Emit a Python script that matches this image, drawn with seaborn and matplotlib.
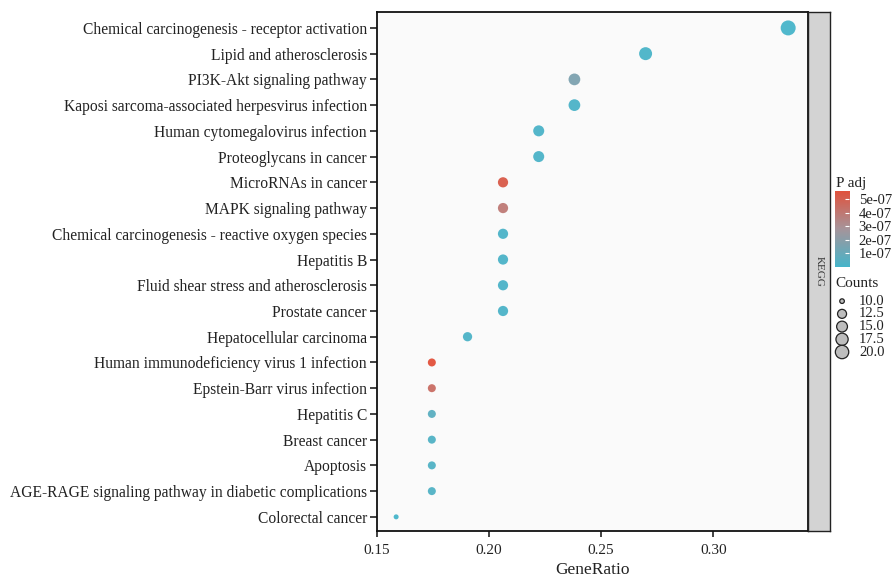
import numpy as np
import pandas as pd
import seaborn as sns
import matplotlib.pyplot as plt
from matplotlib.colors import LinearSegmentedColormap, Normalize

# KEGG enrichment results
terms = [
    "Chemical carcinogenesis - receptor activation",
    "Lipid and atherosclerosis",
    "PI3K-Akt signaling pathway",
    "Kaposi sarcoma-associated herpesvirus infection",
    "Human cytomegalovirus infection",
    "Proteoglycans in cancer",
    "MicroRNAs in cancer",
    "MAPK signaling pathway",
    "Chemical carcinogenesis - reactive oxygen species",
    "Hepatitis B",
    "Fluid shear stress and atherosclerosis",
    "Prostate cancer",
    "Hepatocellular carcinoma",
    "Human immunodeficiency virus 1 infection",
    "Epstein-Barr virus infection",
    "Hepatitis C",
    "Breast cancer",
    "Apoptosis",
    "AGE-RAGE signaling pathway in diabetic complications",
    "Colorectal cancer",
]
counts = [21, 17, 15, 15, 14, 14, 13, 13, 13, 13, 13, 13, 12, 11, 11, 11, 11, 11, 11, 10]
gene_ratio = [0.3333, 0.2698, 0.2381, 0.2381, 0.2222, 0.2222, 0.2063, 0.2063, 0.2063, 0.2063,
              0.2063, 0.2063, 0.1905, 0.1746, 0.1746, 0.1746, 0.1746, 0.1746, 0.1746, 0.1587]
p_adj = [5e-9, 1e-8, 1.6e-7, 1.5e-8, 1.5e-8, 1.5e-8, 5.2e-7, 3.9e-7, 1.5e-8, 1.5e-8,
         1.5e-8, 1.5e-8, 2e-8, 5.6e-7, 4.4e-7, 6e-8, 3e-8, 3e-8, 3e-8, 1e-9]
cbar_ticks = [1e-7, 2e-7, 3e-7, 4e-7, 5e-7]
cbar_labels = ["1e-07", "2e-07", "3e-07", "4e-07", "5e-07"]
size_ticks = [10.0, 12.5, 15.0, 17.5, 20.0]

df = pd.DataFrame({"term": terms, "Counts": counts, "GeneRatio": gene_ratio, "padj": p_adj})

plt.rcParams['font.family'] = ['Liberation Serif', 'DejaVu Serif']
txt = "#222222"

cmap = LinearSegmentedColormap.from_list("padj", ["#46B5CA", "#A7949A", "#E2503A"])
pnorm = Normalize(1e-9, 5.62e-7)
cmin, cmax = min(counts), max(counts)


def dot_area(c):
    # ggplot-like area scale: diameter grows with sqrt of rescaled count
    d_px = 2 * (1 + 5 * np.sqrt((c - cmin) / (cmax - cmin))) + 3
    return (d_px * 0.72) ** 2


size_map = {c: dot_area(c) for c in sorted(set(counts))}

fig = plt.figure(figsize=(8.92, 5.78), dpi=100)
ax = fig.add_axes([0.4222, 0.0813, 0.4833, 0.8971])
ax.set_facecolor("#FAFAFA")

sns.scatterplot(data=df, x="GeneRatio", y="term", hue="padj", size="Counts",
                palette=cmap, hue_norm=pnorm, sizes=size_map,
                linewidth=0, alpha=0.95, legend=False, ax=ax)

ax.set_xlim(0.15, 0.342)
ax.set_ylim(len(terms) - 0.45, -0.6)
ax.set_xticks([0.15, 0.20, 0.25, 0.30])
ax.set_xticklabels(["0.15", "0.20", "0.25", "0.30"])
ax.set_xlabel("GeneRatio", fontsize=12.5, labelpad=3.5, color=txt)
ax.set_ylabel("")
ax.tick_params(axis="y", labelsize=11.2, length=5, width=1.2, color=txt, labelcolor=txt, pad=2)
ax.tick_params(axis="x", labelsize=11, length=4, width=1.2, color=txt, labelcolor=txt, pad=5.5)
for sp in ax.spines.values():
    sp.set_linewidth(1.3)
    sp.set_color("#111111")

# facet strip
strip = fig.add_axes([0.9058, 0.0813, 0.0247, 0.8971])
strip.set_facecolor("#D3D3D3")
strip.set_xticks([])
strip.set_yticks([])
for sp in strip.spines.values():
    sp.set_linewidth(1.0)
    sp.set_color(txt)
strip.text(0.5, 0.5, "KEGG", rotation=-90, ha="center", va="center", fontsize=8,
           color="#333333", transform=strip.transAxes)

# colour bar
cax = fig.add_axes([0.9361, 0.5386, 0.0157, 0.1315])
grad = np.linspace(pnorm.vmin, pnorm.vmax, 256).reshape(-1, 1)
cax.imshow(grad, aspect="auto", cmap=cmap, norm=pnorm, origin="lower",
           extent=[0, 1, pnorm.vmin, pnorm.vmax])
cax.set_xticks([])
cax.yaxis.tick_right()
cax.set_yticks(cbar_ticks)
cax.set_yticklabels(cbar_labels)
cax.tick_params(axis="y", length=3, direction="in", color="white", labelsize=10.5,
                pad=7, labelcolor=txt)
for sp in cax.spines.values():
    sp.set_visible(False)
fig.text(0.937, 0.671, "P adj", fontsize=11, ha="left", va="bottom", color=txt)

# size legend (drawn in its own axes)
fig.text(0.937, 0.510, "Counts", fontsize=11, ha="left", va="center", color=txt)
lax = fig.add_axes([0.930, 0.380, 0.07, 0.110])
lax.set_xlim(0, 1)
lax.set_ylim(len(size_ticks) - 0.5, -0.5)
lax.axis("off")
lax.scatter([0.2] * len(size_ticks), range(len(size_ticks)),
            s=[dot_area(c) * 0.85 for c in size_ticks],
            facecolor="#BDBDBD", edgecolor=txt, linewidth=0.9, clip_on=False)
for i, c in enumerate(size_ticks):
    lax.text(0.47, i, f"{c:.1f}", fontsize=10.5, ha="left", va="center", color=txt)

fig.savefig("out.png", dpi=100)
